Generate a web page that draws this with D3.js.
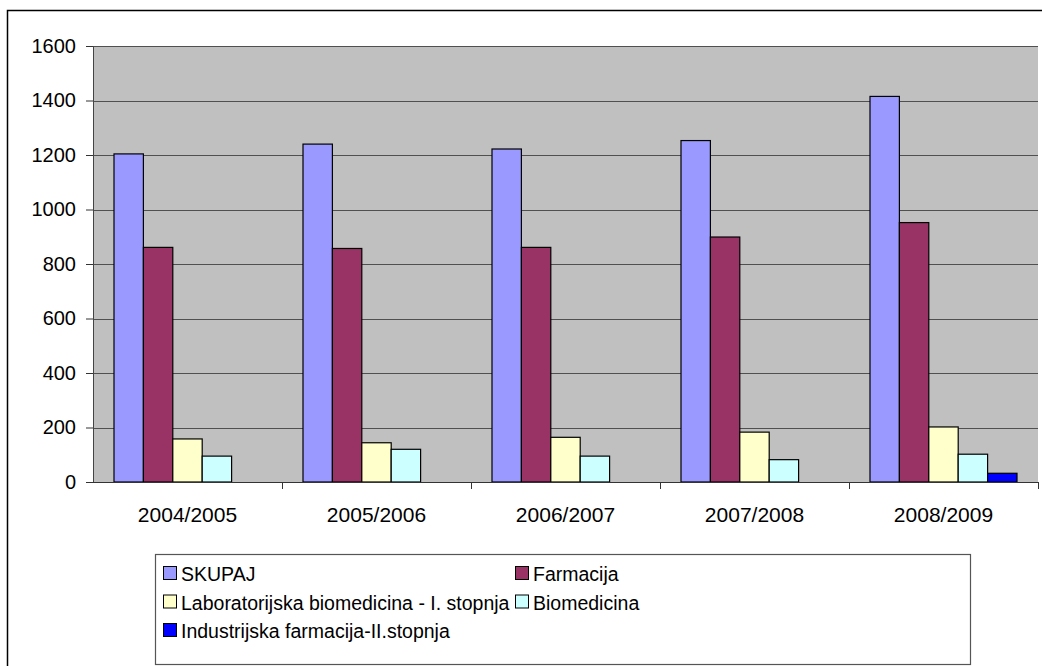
<!DOCTYPE html>
<html>
<head>
<meta charset="utf-8">
<script src="https://cdn.jsdelivr.net/npm/d3@7"></script>
<style>
  body { margin: 0; background: #fff; }
  svg { display: block; font-family: "Liberation Sans", Arial, sans-serif; }
</style>
</head>
<body>
<svg id="chart" width="1042" height="666"></svg>
<script>
// chart data
const years = ['2004/2005', '2005/2006', '2006/2007', '2007/2008', '2008/2009'];
const seriesNames = [
    'SKUPAJ',
    'Farmacija',
    'Laboratorijska biomedicina - I. stopnja',
    'Biomedicina',
    'Industrijska farmacija-II.stopnja'
];
const skupaj = [1204, 1240, 1222, 1253, 1415];
const farmacija = [861, 857, 861, 899, 952];
const laboratorijska = [158, 144, 164, 183, 202];
const biomedicina = [95, 120, 95, 82, 102];
const industrijska = [0, 0, 0, 0, 32];
const yTicks = [0, 200, 400, 600, 800, 1000, 1200, 1400, 1600];
const colors = ['#9999FF', '#993366', '#FFFFCC', '#CCFFFF', '#0000FF'];

const seriesValues = [skupaj, farmacija, laboratorijska, biomedicina, industrijska];

// plot area
const margin = { top: 46, left: 93, right: 4, bottom: 184 };
const width = 1042 - margin.left - margin.right;
const height = 666 - margin.top - margin.bottom;

const svg = d3.select('#chart');

// outer chart border
svg.append('rect')
    .attr('x', 7.5).attr('y', 10.5)
    .attr('width', 1100).attr('height', 700)
    .attr('fill', 'none').attr('stroke', '#000').attr('stroke-width', 1.5);

const g = svg.append('g').attr('transform', 'translate(' + margin.left + ',' + margin.top + ')');

g.append('rect')
    .attr('width', width).attr('height', height)
    .attr('fill', '#C0C0C0');

const x = d3.scaleBand().domain(years).range([0, width]);
const xSub = d3.scaleBand().domain(seriesNames).range([21, x.bandwidth() - 21]);
const y = d3.scaleLinear().domain([0, 1600]).range([height, 0]);

// gridlines
g.append('g')
    .selectAll('line')
    .data(yTicks.filter(d => d > 0))
    .enter()
    .append('line')
    .attr('x1', 0).attr('x2', width)
    .attr('y1', d => Math.round(y(d)) + 0.5)
    .attr('y2', d => Math.round(y(d)) + 0.5)
    .attr('stroke', '#505050').attr('stroke-width', 1);

// bars
const rows = [];
years.forEach((yr, i) => {
    seriesNames.forEach((s, j) => {
        if (seriesValues[j][i] > 0) rows.push({ year: yr, key: s, value: seriesValues[j][i], c: colors[j] });
    });
});
g.append('g')
    .selectAll('rect')
    .data(rows)
    .enter()
    .append('rect')
    .attr('x', d => x(d.year) + xSub(d.key))
    .attr('y', d => y(d.value))
    .attr('width', xSub.bandwidth())
    .attr('height', d => height - y(d.value))
    .attr('fill', d => d.c)
    .attr('stroke', '#000')
    .attr('stroke-width', 1.2);

// Y axis
const yAxis = g.append('g')
    .call(d3.axisLeft(y).tickValues(yTicks).tickFormat(d3.format('d')).tickSize(7).tickPadding(10).tickSizeOuter(0));
yAxis.select('.domain').attr('stroke', '#444');
yAxis.selectAll('.tick line').attr('stroke', '#333');
yAxis.selectAll('text').attr('font-size', 20).attr('fill', '#000')
    .attr('font-family', '"Liberation Sans", Arial, sans-serif');

// X axis
const xTickPos = years.map(d => x(d)).concat([width]);
const xAxisG = g.append('g').attr('transform', 'translate(0,' + height + ')');
xAxisG.append('line')
    .attr('x1', 0).attr('x2', width).attr('y1', 0.5).attr('y2', 0.5)
    .attr('stroke', '#333');
xAxisG.selectAll('line.tk')
    .data(xTickPos.slice(1))
    .enter()
    .append('line')
    .attr('class', 'tk')
    .attr('x1', d => Math.round(d) + 0.5).attr('x2', d => Math.round(d) + 0.5)
    .attr('y1', 0).attr('y2', 7)
    .attr('stroke', '#333');
xAxisG.selectAll('text')
    .data(years)
    .enter()
    .append('text')
    .attr('x', d => x(d) + x.bandwidth() / 2)
    .attr('y', 40)
    .attr('text-anchor', 'middle')
    .attr('font-size', 21)
    .text(d => d);

// legend
const legend = svg.append('g');
legend.append('rect')
    .attr('x', 155.5).attr('y', 554.5)
    .attr('width', 815).attr('height', 110)
    .attr('fill', '#fff').attr('stroke', '#555').attr('stroke-width', 1.2);

const legendPos = [
    { x: 163, y: 581 },
    { x: 515, y: 581 },
    { x: 163, y: 609.5 },
    { x: 515, y: 609.5 },
    { x: 163, y: 638 }
];
seriesNames.forEach((s, i) => {
    const p = legendPos[i];
    legend.append('rect')
        .attr('x', p.x + 0.5).attr('y', p.y - 14.5)
        .attr('width', 13).attr('height', 13)
        .attr('fill', colors[i]).attr('stroke', '#000').attr('stroke-width', 1);
    legend.append('text')
        .attr('x', p.x + 18).attr('y', p.y)
        .attr('font-size', 19.5)
        .text(s);
});
</script>
</body>
</html>
